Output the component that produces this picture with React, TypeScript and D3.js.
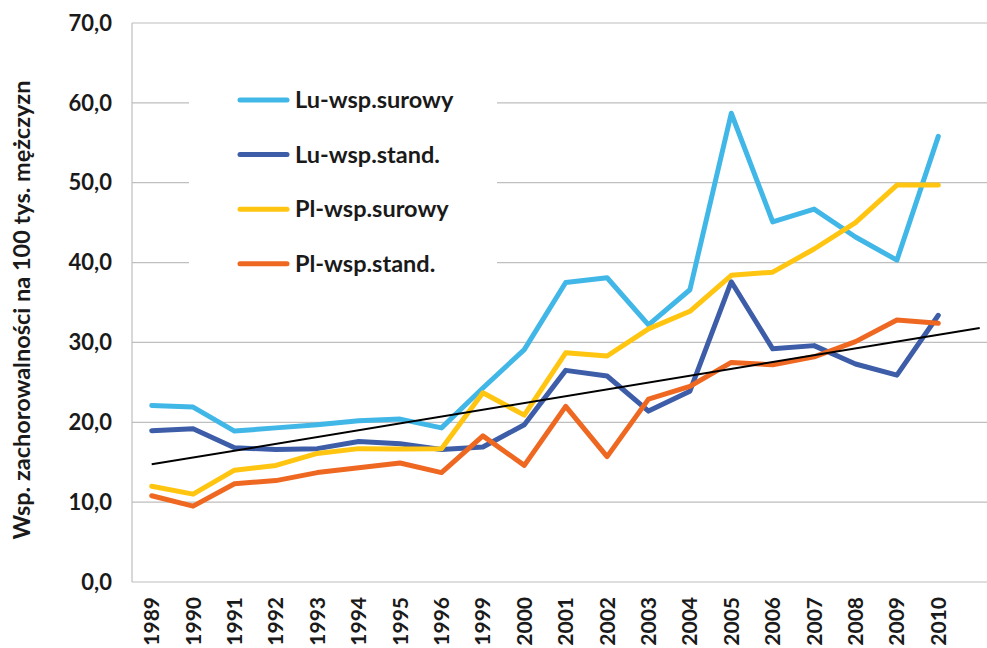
import React from "react";
import * as d3 from "d3";

const years = ["1989","1990","1991","1992","1993","1994","1995","1996","1999","2000","2001","2002","2003","2004","2005","2006","2007","2008","2009","2010"];
const luSurowy = [22.1,21.9,18.9,19.3,19.7,20.2,20.4,19.3,24.3,29.1,37.5,38.1,32.2,36.6,58.7,45.1,46.7,43.2,40.3,55.8];
const luStand = [18.95,19.2,16.8,16.6,16.7,17.6,17.3,16.6,16.9,19.7,26.5,25.8,21.4,23.9,37.6,29.2,29.6,27.3,25.9,33.4];
const plSurowy = [12.0,11.0,14.0,14.6,16.1,16.7,16.65,16.7,23.7,20.9,28.7,28.3,31.7,33.9,38.4,38.8,41.7,45.0,49.7,49.7];
const plStand = [10.8,9.5,12.3,12.7,13.7,14.3,14.9,13.7,18.3,14.6,22.0,15.7,22.9,24.5,27.5,27.2,28.2,30.1,32.8,32.4];
const yTicks = [0,10,20,30,40,50,60,70];
const seriesNames = ["Lu-wsp.surowy","Lu-wsp.stand.","Pl-wsp.surowy","Pl-wsp.stand."];
const seriesColors = ["#41B7E7","#3D5DA8","#FFC510","#EE6822"];
const seriesData = [luSurowy, luStand, plSurowy, plStand];
const yTitle = "Wsp. zachorowalności na 100 tys. mężczyzn";

const W = 987, H = 648;
const left = 132, right = 987, top = 23, bottom = 582;
const FONT = "Lato, 'Open Sans', sans-serif";

export default function App() {
  const x = d3.scaleLinear().domain([0, years.length - 1]).range([151.7, 938.3]);
  const y = d3.scaleLinear().domain([0, 70]).range([bottom, top]);
  const line = d3.line<number>().x((_, i) => x(i)).y(d => y(d));

  // linear trend of Lu-wsp.stand., extended one period forward
  const idx = luStand.map((_, i) => i);
  const mx = d3.mean(idx)!;
  const my = d3.mean(luStand)!;
  const slope = d3.sum(idx, i => (i - mx) * (luStand[i] - my)) / d3.sum(idx, i => (i - mx) ** 2);
  const icpt = my - slope * mx;
  const tEnd = years.length;

  return (
    <svg width={W} height={H} style={{ position: "absolute", left: 0, top: 0, background: "#fff" }}>
      <rect width={W} height={H} fill="#fff" />
      {yTicks.filter(t => t > 0).map(t => (
        <line key={t} x1={left} x2={right} y1={y(t)} y2={y(t)} stroke="#BEBEBE" strokeWidth={1.2} />
      ))}
      <line x1={left} x2={left} y1={top} y2={bottom} stroke="#BEBEBE" strokeWidth={1.2} />
      <line x1={left} x2={right} y1={bottom} y2={bottom} stroke="#BEBEBE" strokeWidth={1.2} />
      {yTicks.map(t => (
        <text key={t} x={112} y={y(t)} dy="0.35em" textAnchor="end" fontFamily={FONT} fontWeight={700} fontSize={22} fill="#1a1a1a">
          {d3.format(".1f")(t).replace(".", ",")}
        </text>
      ))}
      {years.map((yr, i) => (
        <text key={yr} transform={`translate(${x(i)},597) rotate(-90)`} dy="0.36em" textAnchor="end" fontFamily={FONT} fontWeight={700} fontSize={21} fill="#1a1a1a">
          {yr}
        </text>
      ))}
      <text transform={`translate(22,310) rotate(-90)`} dy="0.35em" textAnchor="middle" fontFamily={FONT} fontWeight={700} fontSize={23.5} fill="#1a1a1a">
        {yTitle}
      </text>
      <rect x={189} y={70} width={308} height={220} fill="#fff" />
      {seriesData.map((s, k) => (
        <path key={k} d={line(s)!} fill="none" stroke={seriesColors[k]} strokeWidth={5} strokeLinejoin="round" strokeLinecap="round" />
      ))}
      <line x1={x(0)} y1={y(icpt)} x2={x(tEnd)} y2={y(icpt + slope * tEnd)} stroke="#000" strokeWidth={2} />
      {seriesNames.map((n, k) => (
        <g key={n} transform={`translate(0,${100 + k * 54.6})`}>
          <line x1={240} x2={287} stroke={seriesColors[k]} strokeWidth={5} strokeLinecap="round" />
          <text x={295} dy="0.35em" fontFamily={FONT} fontWeight={700} fontSize={23.5} fill="#1a1a1a">{n}</text>
        </g>
      ))}
    </svg>
  );
}
